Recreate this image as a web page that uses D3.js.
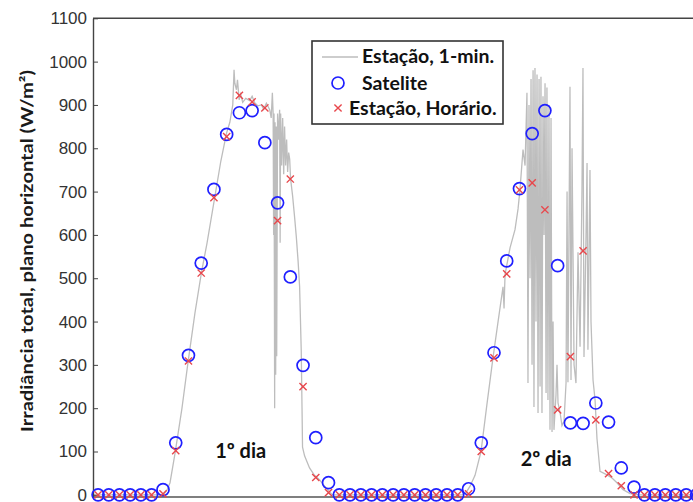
<!DOCTYPE html>
<html><head><meta charset="utf-8">
<script src="https://cdn.jsdelivr.net/npm/d3@7"></script>
<style>body{margin:0;background:#fff}svg{display:block}</style>
</head><body>
<svg id="c" width="693" height="502"></svg>
<script>
// ---- data ----
const yTicks = [0,100,200,300,400,500,600,700,800,900,1000,1100];
// hour of each satellite / hourly station sample (hours from start of record)
const hourT = [0.9,1.74,2.58,3.42,4.26,5.1,
  6,7,8,9,10,11,12,13,14,15,16,17,18,19,
  19.85,20.69,21.54,22.38,23.23,24.08,24.92,25.77,26.62,27.46,28.31,29.15,
  30,31,32,33,34,35,36,37,38,39,40,41,42,43,
  43.82,44.64,45.46,46.28,47.1,47.92];
const satelite = [0,0,0,0,0,0,
  12,120,322,535,705,832,882,887,813,674,503,299,132,28,
  0,0,0,0,0,0,0,0,0,0,0,0,
  14,120,328,540,707,834,887,529,166,165,212,168,62,18,
  0,0,0,0,0,0];
const estacaoHorario = [0,0,0,0,0,0,
  2,102,309,512,686,827,922,907,893,633,729,250,40,5,
  0,0,0,0,0,0,0,0,0,0,0,0,
  2,100,316,510,704,720,658,196,319,563,173,49,21,0,
  0,0,0,0,0,0];
// 1-minute station record [hour, W/m2]
const estacao1min = [
 [0.5,0],[6.0,0],[6.3,10],[6.55,28],[6.94,95],[7.49,200],[7.96,305],[8.51,420],[9.03,515],[9.45,580],
 [10.07,688],[10.54,770],[10.99,835],[11.25,860],[11.48,900],[11.58,981],[11.64,950],[11.77,935],[11.85,958],
 [11.98,912],[12.1,925],[12.26,906],[12.5,915],[12.81,910],[13.0,920],[13.2,905],[13.44,898],[13.73,900],
 [13.91,890],[14.12,904],[14.38,889],[14.5,870],[14.59,928],[14.65,880],[14.69,600],[14.72,880],[14.77,200],
 [14.8,860],[14.85,277],[14.9,850],[14.93,320],[15.0,880],[15.08,820],[15.16,889],[15.2,582],[15.24,880],
 [15.32,760],[15.40,870],[15.48,740],[15.55,850],[15.63,760],[15.71,820],[15.79,745],[15.87,790],[15.95,775],
 [16.02,730],[16.18,690],[16.34,640],[16.47,596],[16.61,540],[16.73,481],[16.86,330],[16.92,200],[16.96,110],
 [17.12,90],[17.51,62],[17.9,45],[18.29,35],[18.69,20],[18.92,12],[19.31,0],
 [29.49,0],[29.80,5],[30.12,20],[30.51,45],[30.98,100],[31.45,210],[31.92,316],[32.32,400],[32.71,480],
 [32.79,430],[32.87,510],[32.94,520],[33.26,570],[33.65,612],[33.89,660],[34.04,704],[34.28,797],[34.44,760],
 [34.59,928],[34.67,258],[34.75,900],[34.83,500],[34.91,960],[34.99,300],[35.07,980],[35.14,203],[35.22,985],
 [35.30,400],[35.38,970],[35.46,189],[35.54,960],[35.62,250],[35.69,965],[35.77,189],[35.85,920],[35.93,600],
 [36.01,950],[36.09,235],[36.16,940],[36.24,219],[36.32,900],[36.40,150],[36.48,870],[36.56,145],[36.64,400],
 [36.71,150],[36.87,230],[36.95,300],[37.03,212],[37.19,190],[37.34,160],[37.50,170],[37.66,258],[37.74,700],
 [37.81,260],[37.97,942],[38.05,265],[38.13,800],[38.29,300],[38.44,258],[38.60,560],[38.76,342],[38.91,700],
 [38.99,985],[39.07,318],[39.23,600],[39.31,766],[39.38,335],[39.54,750],[39.62,400],[39.78,265],[39.94,219],
 [40.09,130],[40.33,54],[40.88,46],[41.27,39],[41.66,28],[42.14,12],[42.69,3],[43.32,0],[49,0]
];
const legendLabels = ["Estação, 1-min.","Satelite","Estação, Horário."];
const dayLabels = [{t:12.1, v:100, text:"1º dia"},{t:36.1, v:80, text:"2º dia"}];
const yLabel = "Irradiância total, plano horizontal (W/m²)";

// ---- drawing ----
const svg = d3.select("#c");
const x = d3.scaleLinear().domain([0.5,49]).range([93,710.4]);
const y = d3.scaleLinear().domain([-5,1100]).range([497,18.3]);

svg.append("defs").append("clipPath").attr("id","clip")
  .append("rect").attr("x",93).attr("y",18.3).attr("width",620).attr("height",479);

// 1-min line
svg.append("path").datum(estacao1min)
  .attr("clip-path","url(#clip)")
  .attr("fill","none").attr("stroke","#bdbdbd").attr("stroke-width",1.3)
  .attr("d", d3.line().x(d=>x(d[0])).y(d=>y(d[1])));

// frame
svg.append("line").attr("x1",93).attr("x2",693).attr("y1",y(1100)).attr("y2",y(1100))
  .attr("stroke","#444").attr("stroke-width",1.4);
svg.append("line").attr("x1",93).attr("x2",693).attr("y1",y(-5)).attr("y2",y(-5))
  .attr("stroke","#555").attr("stroke-width",1.6);

const yAxis = svg.append("g").attr("transform","translate(93,0)")
  .call(d3.axisLeft(y).tickValues(yTicks).tickSizeInner(-5).tickSizeOuter(0).tickPadding(6).tickFormat(d3.format("d")));
yAxis.select(".domain").attr("stroke","#444").attr("stroke-width",1.4);
yAxis.selectAll(".tick line").attr("stroke","#444");
yAxis.selectAll(".tick text").attr("font-family","'Liberation Sans', Arial, sans-serif")
  .attr("font-size",17).attr("fill","#333");

// markers
const pts = hourT.map((t,i)=>({t, s:satelite[i], h:estacaoHorario[i]}));
svg.append("g").selectAll("circle").data(pts).join("circle")
  .attr("cx",d=>x(d.t)).attr("cy",d=>y(d.s)).attr("r",6)
  .attr("fill","none").attr("stroke","#1f1fff").attr("stroke-width",1.7);
const xs = 3.6;
const cross = svg.append("g").attr("stroke","#e8474c").attr("stroke-width",1.4);
cross.selectAll("path").data(pts).join("path")
  .attr("d",d=>{const cx=x(d.t), cy=y(d.h);
    return `M${cx-xs},${cy-xs}L${cx+xs},${cy+xs}M${cx-xs},${cy+xs}L${cx+xs},${cy-xs}`;});

// day labels
svg.append("g").selectAll("text").data(dayLabels).join("text")
  .attr("x",d=>x(d.t)).attr("y",d=>y(d.v)+6).attr("text-anchor","middle")
  .attr("font-family","Lato, 'Open Sans', sans-serif").attr("font-weight","bold")
  .attr("font-size",20).attr("fill","#111").text(d=>d.text);

// y label
svg.append("text").attr("transform","translate(33,251) rotate(-90)")
  .attr("text-anchor","middle").attr("font-family","Lato, 'Open Sans', sans-serif")
  .attr("font-weight","bold").attr("font-size",17).attr("fill","#1a1a1a")
  .attr("textLength",362).attr("lengthAdjust","spacingAndGlyphs").text(yLabel);

// legend
const lg = svg.append("g");
lg.append("rect").attr("x",312).attr("y",41).attr("width",191).attr("height",83)
  .attr("fill","#fff").attr("stroke","#333").attr("stroke-width",1.6);
lg.append("line").attr("x1",322).attr("x2",358).attr("y1",57).attr("y2",57)
  .attr("stroke","#bdbdbd").attr("stroke-width",1.3);
lg.append("circle").attr("cx",338).attr("cy",83).attr("r",6)
  .attr("fill","none").attr("stroke","#1f1fff").attr("stroke-width",1.7);
lg.append("path").attr("d",`M${338-xs},${108-xs}L${338+xs},${108+xs}M${338-xs},${108+xs}L${338+xs},${108-xs}`)
  .attr("stroke","#e8474c").attr("stroke-width",1.4);
const lx = [362,362,349], ly=[63,90,115];
lg.selectAll("text").data(legendLabels).join("text")
  .attr("x",(d,i)=>lx[i]).attr("y",(d,i)=>ly[i])
  .attr("font-family","Lato, 'Open Sans', sans-serif").attr("font-weight","bold")
  .attr("font-size",19.5).attr("fill","#111").text(d=>d);
</script>
</body></html>
